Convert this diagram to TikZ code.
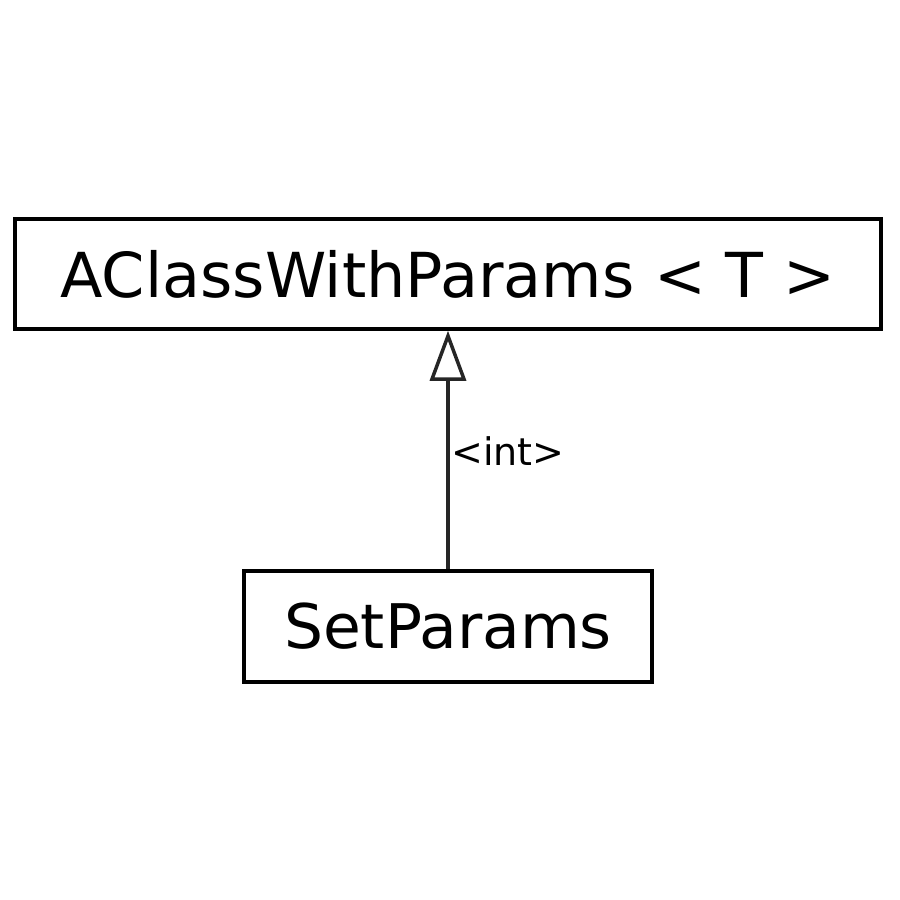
\documentclass[tikz,border=0pt]{standalone}
\usepackage{fontspec}
\setmainfont{DejaVu Sans}
\usetikzlibrary{arrows.meta}
\begin{document}
\begin{tikzpicture}[x=1pt,y=-1pt,
  cls/.style={draw=black,line width=3.5pt,fill=white,inner sep=0pt,font=\fontsize{62}{72}\selectfont},
  gen/.style={draw=black!85,line width=3.5pt,-{Triangle[open,length=50pt,width=36pt,line width=3.5pt]}},
  lbl/.style={font=\fontsize{38}{44}\selectfont,inner sep=0pt,anchor=west}]
\useasboundingbox (0,0) rectangle (900,900);
\node[cls,minimum width=866pt,minimum height=110pt] (base) at (448,274) {AClassWithParams < T >};
\node[cls,minimum width=408pt,minimum height=111pt,font=\fontsize{61.5}{72}\selectfont] (sub) at (448,626.5) {SetParams};
\draw[gen] (sub.north) -- (base.south);
\node[lbl] (tpl) at (451,451) {<int>};
\end{tikzpicture}
\end{document}
